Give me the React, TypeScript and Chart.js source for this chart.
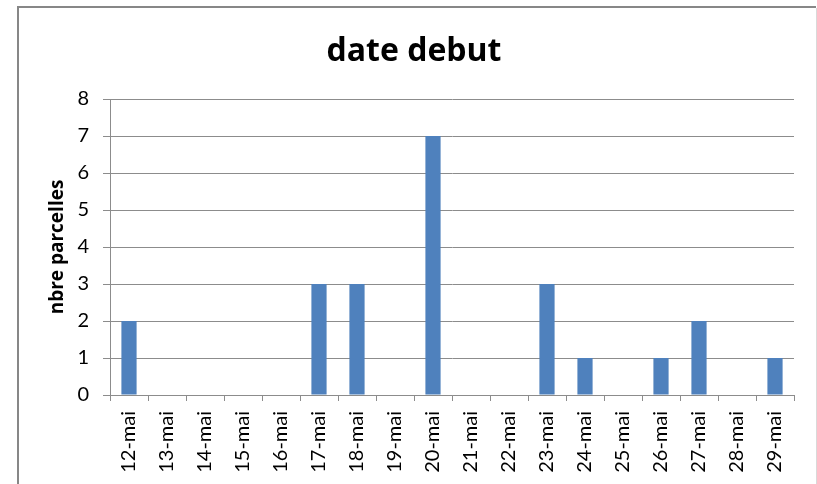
import React, { useEffect, useRef } from "react";
import { Chart, registerables } from "chart.js";

Chart.register(...registerables);

const categories = ["12-mai","13-mai","14-mai","15-mai","16-mai","17-mai","18-mai","19-mai","20-mai","21-mai","22-mai","23-mai","24-mai","25-mai","26-mai","27-mai","28-mai","29-mai"];
const parcelles = [2,0,0,0,0,3,3,0,7,0,0,3,1,0,1,2,0,1];
const chartTitle = "date debut";
const yTitle = "nbre parcelles";

const FONT = "Lato";
const BOLD_FONT = "'Open Sans'";

const framePlugin = {
  id: "frame",
  beforeDraw(chart: any) {
    const ctx = chart.ctx;
    ctx.save();
    ctx.fillStyle = "#ffffff";
    ctx.fillRect(0, 0, chart.width, chart.height);
    ctx.strokeStyle = "#878787";
    ctx.lineWidth = 2;
    ctx.beginPath();
    ctx.moveTo(18, 500);
    ctx.lineTo(18, 7);
    ctx.lineTo(816, 7);
    ctx.stroke();
    ctx.strokeStyle = "#d9d9d9";
    ctx.lineWidth = 1;
    ctx.beginPath();
    ctx.moveTo(816.5, 8);
    ctx.lineTo(816.5, 500);
    ctx.stroke();
    ctx.restore();
  },
  afterDraw(chart: any) {
    const ctx = chart.ctx;
    ctx.save();
    ctx.fillStyle = "#000000";
    ctx.font = `bold 32px ${BOLD_FONT}`;
    ctx.textAlign = "center";
    ctx.textBaseline = "alphabetic";
    ctx.fillText(chartTitle, 414, 61);
    ctx.restore();
  },
};

export default function App() {
  const ref = useRef<HTMLCanvasElement | null>(null);
  useEffect(() => {
    document.body.style.margin = "0";
    const chart = new Chart(ref.current as HTMLCanvasElement, {
      type: "bar",
      data: {
        labels: categories,
        datasets: [
          {
            data: parcelles,
            backgroundColor: "#4f81bd",
            borderWidth: 0,
            categoryPercentage: 1,
            barPercentage: 0.4,
          },
        ],
      },
      plugins: [framePlugin],
      options: {
        animation: false,
        responsive: false,
        maintainAspectRatio: false,
        devicePixelRatio: 1,
        layout: { padding: { top: 99, left: 40, right: 23, bottom: 0 } },
        plugins: { legend: { display: false }, tooltip: { enabled: false }, title: { display: false } },
        scales: {
          x: {
            offset: true,
            grid: { display: true, drawOnChartArea: false, drawTicks: true, tickLength: 6, color: "#8c8c8c", offset: true },
            border: { display: true, color: "#8c8c8c", width: 1 },
            ticks: {
              autoSkip: false,
              minRotation: 90,
              maxRotation: 90,
              padding: 10,
              color: "#000000",
              font: { family: FONT, size: 20 },
            },
            afterFit(scale: any) {
              scale.height = 89;
            },
          },
          y: {
            min: 0,
            max: 8,
            grid: { color: "#8c8c8c", tickLength: 7, drawTicks: true },
            border: { display: true, color: "#8c8c8c", width: 1 },
            ticks: {
              stepSize: 1,
              padding: 14,
              color: "#000000",
              font: { family: FONT, size: 20 },
            },
            title: {
              display: true,
              text: yTitle,
              color: "#000000",
              font: { family: "Open Sans", size: 19, weight: "bold" },
              padding: { top: 6, bottom: 0 },
            },
            afterFit(scale: any) {
              scale.width = 70;
            },
          },
        },
      },
    });
    return () => chart.destroy();
  }, []);
  return (
    <div style={{ position: "absolute", left: 0, top: 0, width: 817, height: 484 }}>
      <canvas ref={ref} width={817} height={484} style={{ width: 817, height: 484 }} />
    </div>
  );
}
